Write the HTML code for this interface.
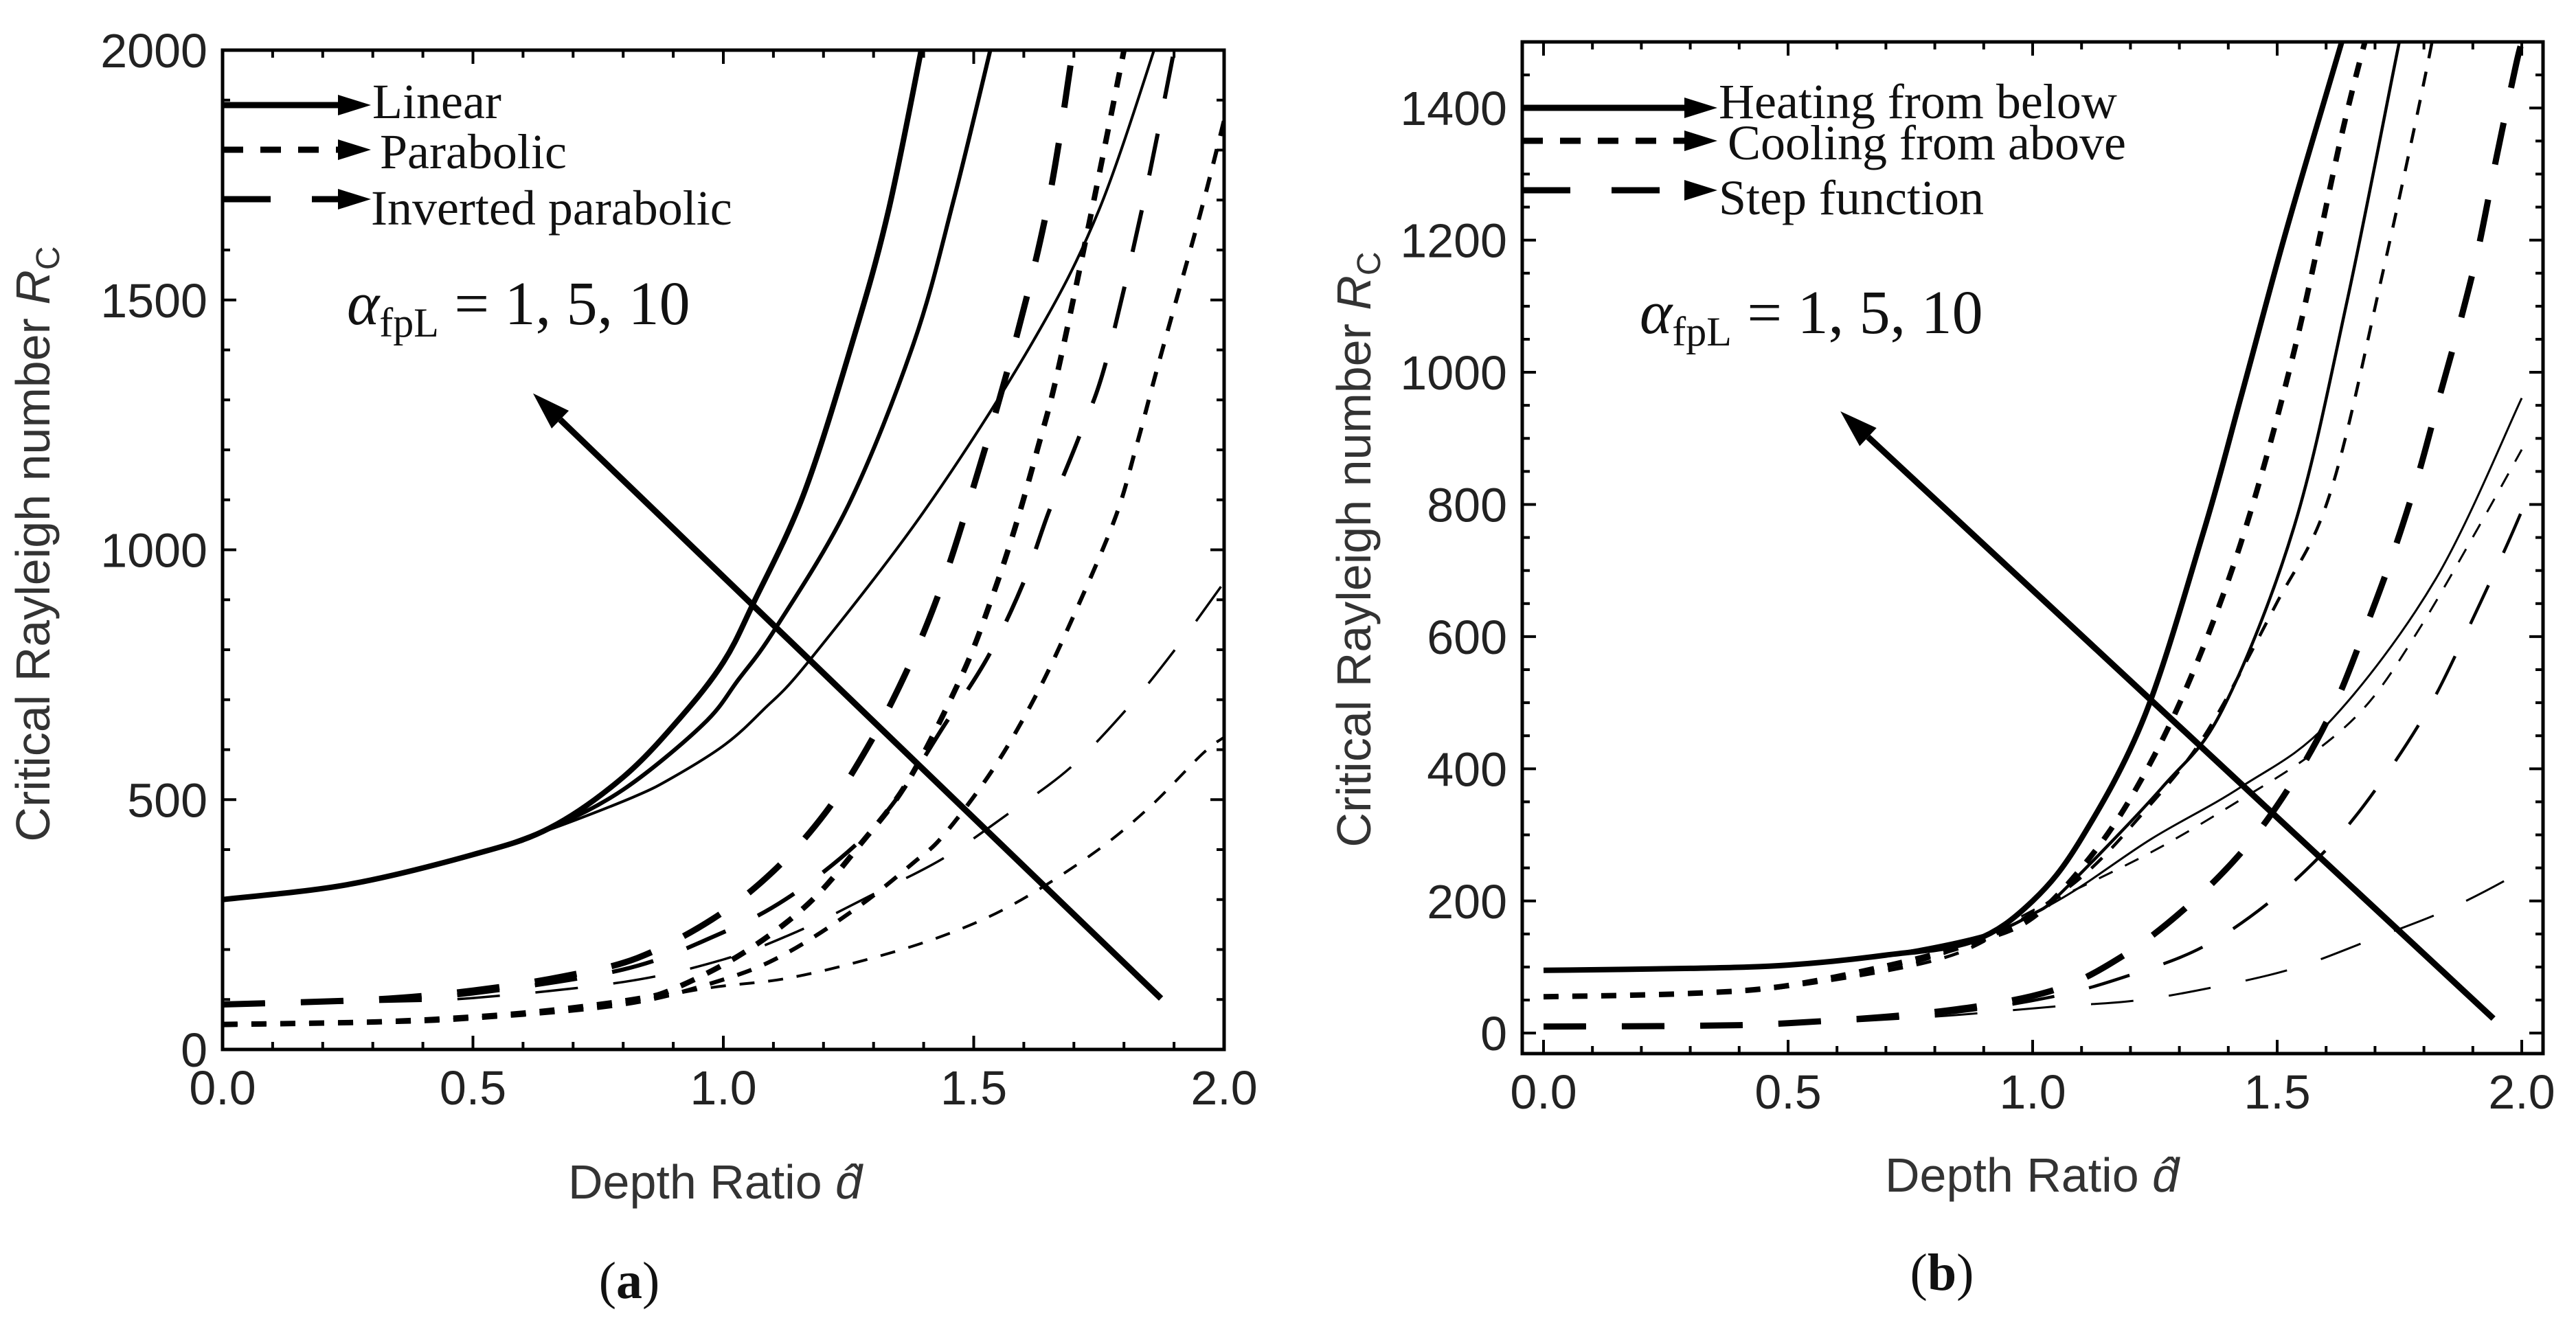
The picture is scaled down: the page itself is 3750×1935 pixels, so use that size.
<!DOCTYPE html>
<html><head><meta charset="utf-8">
<style>
html,body{margin:0;padding:0;background:#fff;}
svg{display:block;}
.tk{font-family:"Liberation Sans",sans-serif;font-size:70px;fill:#222;}
.ttl{font-family:"Liberation Sans",sans-serif;font-size:70px;fill:#333;}
.ser{font-family:"Liberation Serif",serif;fill:#111;}
</style></head>
<body>
<svg id="fig" width="3750" height="1935" viewBox="0 0 3750 1935" xmlns="http://www.w3.org/2000/svg">
</svg>
<script>
// ---------- Panel (a) data ----------
const aLinear1X=[0,0.25,0.5,0.653,0.8,0.915,1.0,1.06,1.16,1.257,1.33,1.405];
const aLinear1Y=[300,330,390,443,545,665,775,893,1110,1413,1680,2050];
const aLinear5X=[0,0.25,0.5,0.653,0.8,0.959,1.03,1.105,1.25,1.38,1.46,1.545];
const aLinear5Y=[300,330,390,443,520,650,740,844,1090,1413,1700,2050];
const aLinear10X=[0,0.25,0.5,0.653,0.82,0.9,1.003,1.08,1.169,1.4,1.616,1.75,1.87];
const aLinear10Y=[300,330,390,440,505,545,610,680,775,1076,1413,1680,2030];
const aPara1X=[0,0.3,0.5,0.653,0.82,0.898,1.038,1.169,1.274,1.37,1.476,1.536,1.584,1.628,1.668,1.74,1.81];
const aPara1Y=[50,55,65,78,100,120,192,291,411,539,748,903,1049,1204,1358,1700,2050];
const aPara5X=[0,0.3,0.5,0.8,1.0,1.125,1.266,1.38,1.44,1.536,1.616,1.686,1.78,1.826,1.87,1.952,2.0];
const aPara5Y=[50,54,62,90,140,192,283,374,429,557,693,838,1057,1212,1376,1671,1860];
const aPara10X=[0,0.5,0.8,0.977,1.125,1.283,1.44,1.58,1.738,1.85,1.957,2.0];
const aPara10Y=[50,62,95,124,142,179,228,291,392,484,592,625];
const aInv1X=[0,0.3,0.5,0.679,0.828,0.977,1.099,1.204,1.292,1.366,1.423,1.476,1.572,1.65,1.705];
const aInv1Y=[90,100,118,146,183,260,356,474,612,757,893,1049,1376,1700,2050];
const aInv5X=[0,0.3,0.5,0.8,0.985,1.125,1.266,1.353,1.44,1.528,1.598,1.65,1.712,1.764,1.84,1.91];
const aInv5Y=[90,98,112,160,228,301,411,511,647,785,931,1076,1230,1376,1700,2050];
const aInv10X=[0,0.3,0.5,0.8,1.0,1.152,1.3,1.44,1.572,1.694,1.808,1.904,2.0];
const aInv10Y=[90,95,103,135,180,238,311,383,474,565,684,803,935];
const aTicksY=[0,500,1000,1500,2000];
const aTicksX=[0,0.5,1.0,1.5,2.0];

// ---------- Panel (b) data ----------
const bHeat1X=[0,0.3,0.5,0.7,0.88,1.0,1.1,1.229,1.35,1.425,1.513,1.6,1.64];
const bHeat1Y=[95,98,103,118,140,200,295,480,760,960,1200,1420,1520];
const bHeat5X=[0,0.3,0.5,0.7,0.9,1.0,1.062,1.265,1.389,1.534,1.643,1.75,1.78];
const bHeat5Y=[95,98,103,118,148,180,215,372,491,765,1108,1501,1600];
const bHeat10X=[0,0.3,0.5,0.7,0.9,1.062,1.243,1.425,1.607,1.824,2.0];
const bHeat10Y=[95,98,103,118,148,205,294,372,471,687,961];
const bCool1X=[0,0.3,0.5,0.75,0.9,1.0,1.1,1.2,1.31,1.425,1.534,1.632,1.69];
const bCool1Y=[55,60,72,110,142,175,250,355,515,740,1030,1360,1530];
const bCool5X=[0,0.3,0.5,0.8,0.95,1.098,1.222,1.352,1.497,1.607,1.715,1.817,1.835];
const bCool5Y=[55,60,70,110,160,235,330,451,648,814,1148,1501,1600];
const bCool10X=[0,0.3,0.5,0.8,1.025,1.243,1.425,1.57,1.687,1.795,1.911,2.0];
const bCool10Y=[55,60,70,115,195,274,353,422,500,617,765,883];
const bStep1X=[0,0.3,0.5,0.8,1.034,1.185,1.323,1.44,1.534,1.614,1.678,1.737,1.788,1.831,1.875,1.911,1.948,1.987,2.0];
const bStep1Y=[10,11,15,32,63,117,196,285,383,491,608,726,844,961,1079,1187,1324,1461,1500];
const bStep5X=[0,0.3,0.5,0.8,1.034,1.2,1.352,1.497,1.621,1.715,1.809,1.882,1.962,2.0];
const bStep5Y=[10,11,14,28,54,88,132,206,294,383,491,599,726,790];
const bStep10X=[0,0.3,0.5,0.8,1.041,1.208,1.367,1.534,1.694,1.846,1.976,2.0];
const bStep10Y=[10,11,13,25,40,49,69,98,142,186,235,250];
const bTicksY=[0,200,400,600,800,1000,1200,1400];
const bTicksX=[0,0.5,1.0,1.5,2.0];

const NS="http://www.w3.org/2000/svg";
const fig=document.getElementById('fig');
function mk(tag,attrs,parent){const e=document.createElementNS(NS,tag);for(const k in attrs)e.setAttribute(k,attrs[k]);(parent||fig).appendChild(e);return e;}

function spline(pts){
  let d="M"+pts[0][0].toFixed(1)+","+pts[0][1].toFixed(1);
  for(let i=0;i<pts.length-1;i++){
    const p0=pts[i-1]||pts[i],p1=pts[i],p2=pts[i+1],p3=pts[i+2]||p2;
    const c1=[p1[0]+(p2[0]-p0[0])/6,p1[1]+(p2[1]-p0[1])/6];
    const c2=[p2[0]-(p3[0]-p1[0])/6,p2[1]-(p3[1]-p1[1])/6];
    d+="C"+c1[0].toFixed(1)+","+c1[1].toFixed(1)+" "+c2[0].toFixed(1)+","+c2[1].toFixed(1)+" "+p2[0].toFixed(1)+","+p2[1].toFixed(1);
  }
  return d;
}

function panel(cfg){
  const g=mk('g',{});
  
  
  const L=cfg.L,R=cfg.R,T=cfg.T,B=cfg.B;
  const sx=v=>L+(v-cfg.x0)/(cfg.x1-cfg.x0)*(R-L);
  const sy=v=>B-(v-cfg.y0)/(cfg.y1-cfg.y0)*(B-T);
  const cid='clip-'+cfg.name;
  const defs=mk('defs',{},g);
  const cp=mk('clipPath',{id:cid},defs);
  mk('rect',{x:L,y:T,width:R-L,height:B-T},cp);
  cfg.series.forEach(s=>{
    const pts=s.x.map((v,i)=>[sx(v),sy(s.y[i])]);
    const p=mk('path',{d:spline(pts),fill:'none',stroke:'#000','stroke-width':s.w,'stroke-dasharray':s.dash||'none','clip-path':'url(#'+cid+')'},g);
    
    
  });
  const fr=mk('rect',{x:L,y:T,width:R-L,height:B-T,fill:'none',stroke:'#000','stroke-width':5},g);
  
  
  const tk=mk('g',{stroke:'#000','stroke-width':4},g);
  
  
  for(let v=cfg.xminorStart;v<=cfg.x1+1e-9;v+=cfg.xminor){
    if(v<cfg.x0-1e-9)continue;
    const major=Math.abs(v/0.5-Math.round(v/0.5))<1e-6;
    const len=major?20:11,x=sx(v);
    mk('line',{x1:x,y1:B,x2:x,y2:B-len},tk);mk('line',{x1:x,y1:T,x2:x,y2:T+len},tk);
  }
  for(let v=cfg.yminorStart;v<=cfg.y1+1e-9;v+=cfg.yminor){
    if(v<cfg.y0-1e-9)continue;
    const major=Math.abs(v/cfg.ymajor-Math.round(v/cfg.ymajor))<1e-6;
    const len=major?20:11,y=sy(v);
    mk('line',{x1:L,y1:y,x2:L+len,y2:y},tk);mk('line',{x1:R,y1:y,x2:R-len,y2:y},tk);
  }
  cfg.ticksX.forEach(v=>{
    const t=mk('text',{x:sx(v),y:cfg.xlabY,'text-anchor':'middle',class:'tk'},g);
    t.textContent=v.toFixed(1);
    
    
  });
  cfg.ticksY.forEach(v=>{
    const t=mk('text',{x:L-22,y:sy(v)+25,'text-anchor':'end',class:'tk'},g);
    t.textContent=String(v);
    
    
  });
  const a0=[sx(cfg.arrow[0]),sy(cfg.arrow[1])],a1=[sx(cfg.arrow[2]),sy(cfg.arrow[3])];
  const ang=Math.atan2(a1[1]-a0[1],a1[0]-a0[0]);
  const hl=55,hw=18;
  const bx=a1[0]-hl*Math.cos(ang),by=a1[1]-hl*Math.sin(ang);
  const ag=mk('g',{},g);
  
  
  mk('line',{x1:a0[0],y1:a0[1],x2:bx,y2:by,stroke:'#000','stroke-width':9},ag);
  mk('polygon',{points:`${a1[0]},${a1[1]} ${bx+hw*Math.sin(ang)},${by-hw*Math.cos(ang)} ${bx-hw*Math.sin(ang)},${by+hw*Math.cos(ang)}`,fill:'#000'},ag);
  cfg.legend.forEach(e=>{
    const lg=mk('g',{},g);
    
    
    mk('line',{x1:L,y1:e.y,x2:e.tip-40,y2:e.y,stroke:'#000','stroke-width':9,'stroke-dasharray':e.dash||'none'},lg);
    mk('polygon',{points:`${e.tip},${e.y} ${e.tip-48},${e.y-15} ${e.tip-48},${e.y+15}`,fill:'#000'},lg);
    const t=mk('text',{x:e.tx,y:e.ty,class:'ser','font-size':72},lg);
    t.textContent=e.label;
  });
  const al=mk('text',{x:cfg.alpha[0],y:cfg.alpha[1],class:'ser','font-size':90},g);
  
  
  al.innerHTML='<tspan font-style="italic">α</tspan><tspan font-size="60" dy="18">fpL</tspan><tspan dy="-18"> = 1, 5, 10</tspan>';
  const yt=mk('text',{x:0,y:0,class:'ttl','text-anchor':'middle',transform:`translate(${cfg.ytitle[0]},${cfg.ytitle[1]}) rotate(-90)`},g);
  
  
  yt.innerHTML='Critical Rayleigh number <tspan font-style="italic">R</tspan><tspan font-size="48" dy="14">C</tspan>';
  const xt=mk('text',{x:cfg.xtitle[0],y:cfg.xtitle[1],class:'ttl','text-anchor':'middle'},g);
  
  
  xt.innerHTML='Depth Ratio <tspan font-style="italic">d̂</tspan>';
  const pl=mk('text',{x:cfg.plabel[0],y:cfg.plabel[1],class:'ser','font-size':76,'text-anchor':'middle'},g);
  
  
  pl.innerHTML='(<tspan font-weight="bold">'+cfg.letter+'</tspan>)';
}

const SD='22 20', LD='62 52';
panel({name:'panel-a',letter:'a',L:324,R:1782,T:73,B:1528,x0:0,x1:2,y0:0,y1:2000,
  xminor:0.1,xminorStart:0,yminor:100,yminorStart:0,ymajor:500,
  ticksX:aTicksX,ticksY:aTicksY,xlabY:1608,
  series:[
    {name:'linear-alpha-1',x:aLinear1X,y:aLinear1Y,w:8},
    {name:'linear-alpha-5',x:aLinear5X,y:aLinear5Y,w:6},
    {name:'linear-alpha-10',x:aLinear10X,y:aLinear10Y,w:4},
    {name:'parabolic-alpha-1',x:aPara1X,y:aPara1Y,w:8,dash:SD},
    {name:'parabolic-alpha-5',x:aPara5X,y:aPara5Y,w:6,dash:SD},
    {name:'parabolic-alpha-10',x:aPara10X,y:aPara10Y,w:4,dash:SD},
    {name:'inverted-alpha-1',x:aInv1X,y:aInv1Y,w:9,dash:LD},
    {name:'inverted-alpha-5',x:aInv5X,y:aInv5Y,w:6,dash:LD},
    {name:'inverted-alpha-10',x:aInv10X,y:aInv10Y,w:3.5,dash:LD}],
  arrow:[1.874,102,0.62,1313],
  legend:[{y:153,tip:540,tx:542,ty:172,label:'Linear'},
          {y:218,tip:540,tx:553,ty:245,label:'Parabolic',dash:'30 25'},
          {y:290,tip:540,tx:540,ty:327,label:'Inverted parabolic',dash:'70 60'}],
  alpha:[505,472],ytitle:[72,792],xtitle:[1041,1745],plabel:[916,1890]});

panel({name:'panel-b',letter:'b',L:2216,R:3702,T:61,B:1534,x0:-0.0435,x1:2.0435,y0:-31,y1:1500,
  xminor:0.1,xminorStart:0,yminor:50,yminorStart:0,ymajor:200,
  ticksX:bTicksX,ticksY:bTicksY,xlabY:1614,
  series:[
    {name:'heating-alpha-1',x:bHeat1X,y:bHeat1Y,w:8},
    {name:'heating-alpha-5',x:bHeat5X,y:bHeat5Y,w:4.5},
    {name:'heating-alpha-10',x:bHeat10X,y:bHeat10Y,w:3},
    {name:'cooling-alpha-1',x:bCool1X,y:bCool1Y,w:8,dash:SD},
    {name:'cooling-alpha-5',x:bCool5X,y:bCool5Y,w:4.5,dash:SD},
    {name:'cooling-alpha-10',x:bCool10X,y:bCool10Y,w:3,dash:SD},
    {name:'step-alpha-1',x:bStep1X,y:bStep1Y,w:9,dash:LD},
    {name:'step-alpha-5',x:bStep5X,y:bStep5Y,w:4.5,dash:LD},
    {name:'step-alpha-10',x:bStep10X,y:bStep10Y,w:3,dash:LD}],
  arrow:[1.942,22,0.607,941],
  legend:[{y:157,tip:2500,tx:2502,ty:172,label:'Heating from below'},
          {y:205,tip:2500,tx:2515,ty:232,label:'Cooling from above',dash:'30 25'},
          {y:277,tip:2500,tx:2502,ty:312,label:'Step function',dash:'70 60'}],
  alpha:[2387,485],ytitle:[1995,800],xtitle:[2958,1735],plabel:[2827,1878]});
</script>
</body></html>
